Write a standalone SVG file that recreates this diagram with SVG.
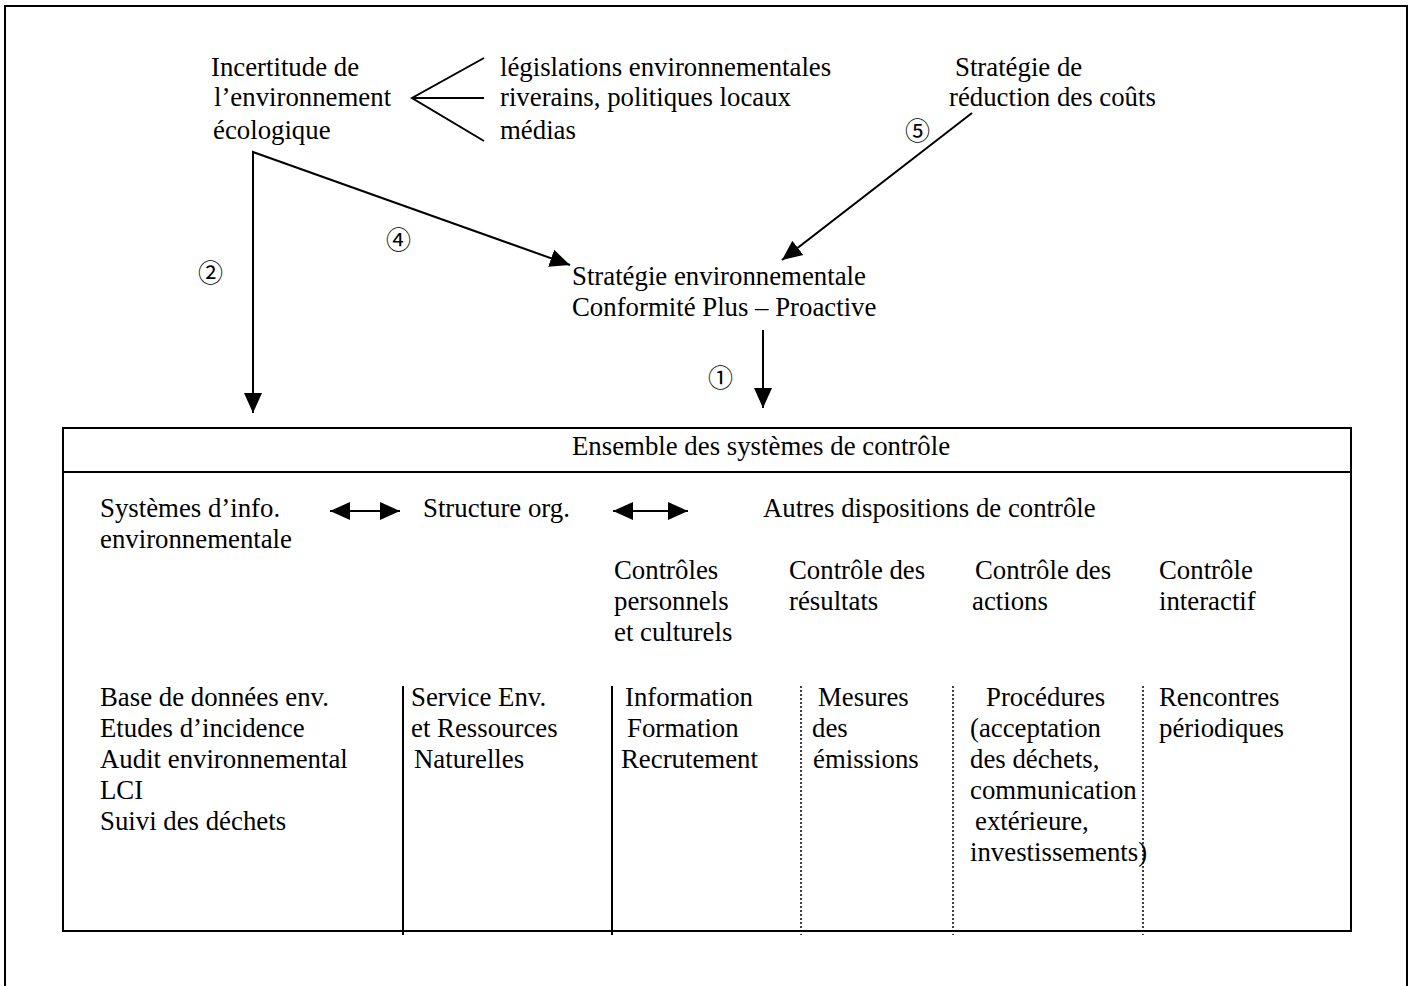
<svg xmlns="http://www.w3.org/2000/svg" width="1411" height="986" viewBox="0 0 1411 986">
<style>
text{font-family:"Liberation Serif","Times New Roman",serif;font-size:26.8px;fill:#000}
.num{font-family:"Noto Sans CJK JP","DejaVu Sans",sans-serif;font-size:25px}
.ln{stroke:#000;stroke-width:2;fill:none}
.dot{stroke:#000;stroke-width:1.5;stroke-dasharray:2 2;fill:none}
</style>
<defs>
<marker id="a" viewBox="0 0 20 20" refX="20" refY="10" markerWidth="20" markerHeight="20" orient="auto-start-reverse" markerUnits="userSpaceOnUse">
<path d="M0,1 L20,10 L0,19 Z" fill="#000"/>
</marker>
</defs>
<rect x="5" y="6" width="1402" height="1000" class="ln"/>
<g id="incertitude">
<text x="211" y="76">Incertitude de</text>
<text x="214" y="106">l’environnement</text>
<text x="213" y="139">écologique</text>
</g>
<g id="sources">
<text x="500" y="76">législations environnementales</text>
<text x="500" y="106">riverains, politiques locaux</text>
<text x="500" y="139">médias</text>
</g>
<g id="reduction">
<text x="955" y="76">Stratégie de</text>
<text x="949" y="106">réduction des coûts</text>
</g>
<g id="strategie">
<text x="572" y="285">Stratégie environnementale</text>
<text x="572" y="316">Conformité Plus – Proactive</text>
</g>
<g id="ensemble">
<rect x="63" y="428" width="1288" height="503" class="ln"/>
<line x1="63" y1="472" x2="1351" y2="472" class="ln"/>
<text x="572" y="455">Ensemble des systèmes de contrôle</text>
<text x="100" y="517">Systèmes d’info.</text>
<text x="100" y="548">environnementale</text>
<text x="423" y="517">Structure org.</text>
<text x="763" y="517">Autres dispositions de contrôle</text>
<text x="614" y="579">Contrôles</text>
<text x="614" y="610">personnels</text>
<text x="614" y="641">et culturels</text>
<text x="789" y="579">Contrôle des</text>
<text x="789" y="610">résultats</text>
<text x="975" y="579">Contrôle des</text>
<text x="972" y="610">actions</text>
<text x="1159" y="579">Contrôle</text>
<text x="1159" y="610">interactif</text>
<line x1="403" y1="686" x2="403" y2="935" class="ln"/>
<line x1="612" y1="686" x2="612" y2="935" class="ln"/>
<line x1="801" y1="686" x2="801" y2="935" class="dot"/>
<line x1="953" y1="686" x2="953" y2="935" class="dot"/>
<line x1="1143" y1="686" x2="1143" y2="935" class="dot"/>
<text x="100" y="706">Base de données env.</text>
<text x="100" y="737">Etudes d’incidence</text>
<text x="100" y="768">Audit environnemental</text>
<text x="100" y="799">LCI</text>
<text x="100" y="830">Suivi des déchets</text>
<text x="411" y="706">Service Env.</text>
<text x="411" y="737">et Ressources</text>
<text x="414" y="768">Naturelles</text>
<text x="625" y="706">Information</text>
<text x="627" y="737">Formation</text>
<text x="621" y="768">Recrutement</text>
<text x="818" y="706">Mesures</text>
<text x="812" y="737">des</text>
<text x="813" y="768">émissions</text>
<text x="986" y="706">Procédures</text>
<text x="970" y="737">(acceptation</text>
<text x="970" y="768">des déchets,</text>
<text x="970" y="799">communication</text>
<text x="975" y="830">extérieure,</text>
<text x="970" y="861">investissements)</text>
<text x="1159" y="706">Rencontres</text>
<text x="1159" y="737">périodiques</text>
</g>
<g id="connectors">
<path d="M484,58 L412,98 L484,141 M412,98 L484,98" class="ln"/>
<polyline points="253,413 253,152 570,265" class="ln" marker-start="url(#a)" marker-end="url(#a)"/>
<line x1="972" y1="113" x2="782" y2="260" class="ln" marker-end="url(#a)"/>
<line x1="763" y1="330" x2="763" y2="408" class="ln" marker-end="url(#a)"/>
<line x1="330" y1="511" x2="400" y2="511" class="ln" marker-start="url(#a)" marker-end="url(#a)"/>
<line x1="613" y1="511" x2="688" y2="511" class="ln" marker-start="url(#a)" marker-end="url(#a)"/>
<text class="num" x="198" y="282">②</text>
<text class="num" x="386" y="249">④</text>
<text class="num" x="905" y="140">⑤</text>
<text class="num" x="708" y="387">①</text>
</g>
</svg>
